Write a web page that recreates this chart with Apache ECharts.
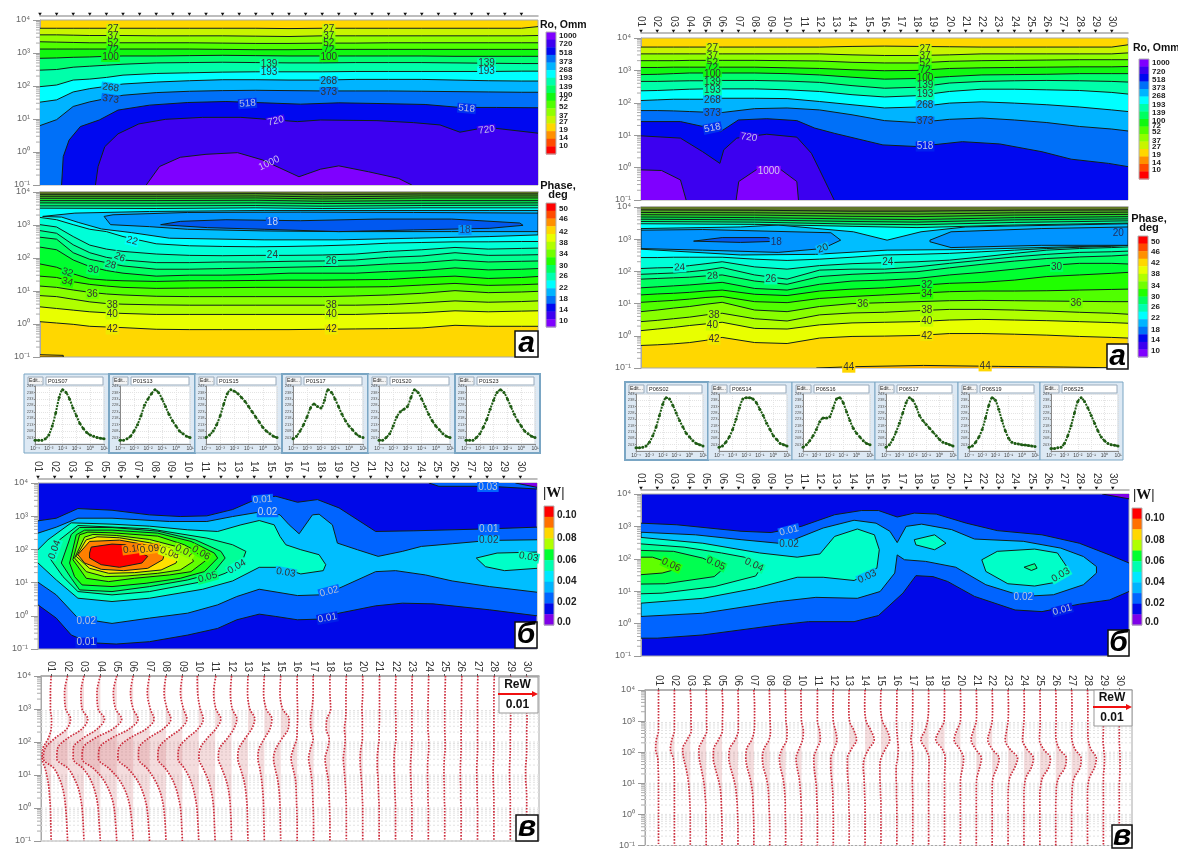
<!DOCTYPE html>
<html><head><meta charset="utf-8">
<style>html,body{margin:0;padding:0;background:#fff}#c{width:1178px;height:850px}</style>
<script src="https://cdn.jsdelivr.net/npm/echarts@6/dist/echarts.min.js"></script>
</head><body><div id="c"></div>
<script>
// ---------- shared axis values ----------
const sites=[1,2,3,4,5,6,7,8,9,10,11,12,13,14,15,16,17,18,19,20,21,22,23,24,25,26,27,28,29,30];
const siteLabels=sites.map(s=>String(s).padStart(2,'0'));
const yTickLabels={'-1':'10⁻¹','0':'10⁰','1':'10¹','2':'10²','3':'10³','4':'10⁴'};
const minorMult=[2,3,4,5,6,7,8,9];
const knots=[1,2,3,4,5,6,8,10,12,14,16,18,20,22,24,26,28,30,31];
const stripeKnots=[1,8,14,18,24,31];
// ---------- Ro, left (log10 period of each contour at knots) ----------
const roL27=[3.75,3.75,3.75,3.75,3.75,3.75,3.75,3.75,3.75,3.75,3.74,3.75,3.75,3.75,3.75,3.75,3.75,3.75,3.80];
const roL37=[3.55,3.55,3.54,3.53,3.53,3.53,3.52,3.52,3.52,3.51,3.50,3.52,3.52,3.52,3.52,3.52,3.52,3.52,3.53];
const roL52=[3.34,3.33,3.32,3.31,3.31,3.31,3.31,3.31,3.30,3.29,3.29,3.30,3.30,3.31,3.31,3.31,3.31,3.31,3.31];
const roL72=[3.12,3.12,3.12,3.12,3.12,3.12,3.12,3.12,3.11,3.10,3.10,3.11,3.11,3.11,3.11,3.11,3.11,3.11,3.11];
const roL100=[2.84,2.85,2.87,2.88,2.90,2.91,2.91,2.92,2.93,2.92,2.91,2.91,2.91,2.91,2.91,2.90,2.90,2.90,2.90];
const roL139=[2.48,2.50,2.57,2.60,2.63,2.66,2.70,2.71,2.72,2.71,2.70,2.70,2.71,2.71,2.71,2.70,2.69,2.68,2.68];
const roL193=[1.98,2.03,2.18,2.21,2.26,2.33,2.38,2.40,2.42,2.43,2.43,2.43,2.44,2.44,2.44,2.44,2.44,2.45,2.45];
const roL268=[1.51,1.58,1.82,1.92,1.99,2.06,2.12,2.16,2.19,2.19,2.18,2.18,2.20,2.20,2.20,2.18,2.16,2.15,2.15];
const roL373=[0.80,0.98,1.38,1.52,1.62,1.72,1.80,1.84,1.86,1.87,1.86,1.85,1.85,1.85,1.84,1.83,1.82,1.81,1.81];
const roL518=[[2.3,-1],[2.4,-0.14],[2.75,0.36],[3.43,0.77],[4.57,0.97],[5.7,1.27],[7.6,1.42],[9.9,1.5],[12.2,1.53],[14.5,1.49],[16.7,1.45],[19,1.49],[21.3,1.47],[24.2,1.44],[26.3,1.35],[28.5,1.35],[31,1.34]];
const roL720=[[4.34,-1],[4.5,-0.44],[4.9,0.16],[5.7,0.55],[6.95,0.85],[8.55,0.99],[10.8,1.05],[13.1,1.05],[14.7,0.99],[16.5,0.92],[17.9,0.97],[21.3,0.95],[23.5,0.89],[25.1,0.82],[26.3,0.6],[27.9,0.75],[31,0.57]];
const roL1000=[[7.4,-1],[8.2,-0.44],[9.45,-0.16],[11,-0.07],[12.9,-0.02],[14.4,-0.24],[16.6,-0.75],[17.9,-0.52],[19,-0.42],[20.8,-0.6],[22.6,-0.8],[23.4,-1]];
// ---------- Ro, right ----------
const roR27=[3.72,3.72,3.72,3.72,3.72,3.72,3.72,3.72,3.72,3.74,3.75,3.74,3.73,3.72,3.72,3.72,3.72,3.72,3.79];
const roR37=[3.51,3.51,3.51,3.51,3.51,3.51,3.51,3.51,3.51,3.48,3.46,3.46,3.48,3.51,3.51,3.51,3.51,3.51,3.54];
const roR52=[3.30,3.30,3.30,3.31,3.31,3.31,3.31,3.30,3.29,3.25,3.23,3.23,3.28,3.30,3.31,3.32,3.33,3.33,3.33];
const roR72=[3.09,3.09,3.10,3.10,3.10,3.10,3.10,3.08,3.06,3.02,2.99,3.00,3.06,3.08,3.09,3.10,3.11,3.11,3.12];
const roR100=[2.87,2.88,2.90,2.92,2.92,2.92,2.92,2.90,2.86,2.79,2.73,2.75,2.81,2.86,2.87,2.88,2.90,2.90,2.90];
const roR139=[2.66,2.66,2.67,2.68,2.68,2.69,2.69,2.67,2.63,2.53,2.45,2.48,2.61,2.66,2.68,2.69,2.68,2.66,2.64];
const roR193=[2.37,2.38,2.40,2.42,2.43,2.43,2.43,2.40,2.35,2.25,2.18,2.22,2.35,2.42,2.42,2.40,2.38,2.32,2.27];
const roR268=[2.07,2.09,2.11,2.11,2.11,2.14,2.14,2.13,2.04,1.94,1.84,1.87,1.99,2.03,1.99,1.94,1.87,1.78,1.73];
const roR373=[1.76,1.76,1.75,1.73,1.71,1.70,1.82,1.84,1.78,1.63,1.45,1.39,1.49,1.53,1.47,1.39,1.27,1.19,1.13];
const roR518=[[1,1.42],[3.43,1.42],[4.8,1.27],[5.9,1.11],[7,1.47],[8.75,1.51],[10.6,1.45],[11.7,1.22],[12.9,1.06],[15.9,0.70],[18,0.65],[20.8,0.80],[23.1,0.73],[25.7,0.49],[27.5,0.26],[29.8,0.13],[31,0.03]];
const roR720=[[1,0.98],[3.43,0.91],[4.8,0.49],[5.86,0.13],[6.1,0.55],[6.9,0.91],[8.75,1.03],[10.6,0.94],[11.5,0.44],[12,-0.07],[12.9,-1]];
const roR1000a=[[1,-0.07],[2.27,-0.09],[3.43,-0.38],[3.78,-1]];
const roR1000b=[[6.86,-1],[7.02,-0.43],[8.3,0],[9.45,0],[10.6,-0.43],[10.7,-1]];
// ---------- Phase, left ----------
const phL42=[.07,.03,-.01,-.07,-.09,-.11,-.16,-.17,-.17,-.17,-.17,-.16,-.15,-.14,-.12,-.04,-.07,-.07,-.07];
const phL40=[.52,.47,.42,.37,.34,.32,.29,.29,.29,.29,.29,.29,.29,.32,.34,.40,.37,.39,.40];
const phL38=[.86,.83,.75,.67,.62,.60,.58,.57,.57,.57,.57,.57,.57,.59,.64,.70,.66,.68,.70];
const phL36=[1.15,1.11,1.03,.96,.91,.88,.84,.83,.83,.83,.83,.83,.85,.88,.93,1.01,.95,.97,.99];
const phL34=[1.45,1.41,1.28,1.20,1.15,1.11,1.08,1.09,1.10,1.11,1.11,1.11,1.12,1.13,1.18,1.23,1.17,1.19,1.21];
const phL32=[1.82,1.72,1.52,1.37,1.33,1.31,1.29,1.31,1.31,1.32,1.33,1.33,1.34,1.35,1.41,1.45,1.38,1.41,1.44];
const phL30=[2.33,2.25,1.94,1.74,1.62,1.54,1.45,1.48,1.48,1.50,1.54,1.54,1.54,1.59,1.62,1.70,1.64,1.66,1.68];
const phL28=[2.63,2.57,2.16,1.96,1.86,1.76,1.66,1.66,1.68,1.70,1.72,1.74,1.76,1.82,1.86,1.94,1.88,1.90,1.91];
const phL26=[2.83,2.75,2.40,2.16,2.02,1.94,1.86,1.86,1.88,1.88,1.90,1.91,1.94,2.02,2.06,2.16,2.08,2.09,2.10];
const phL24=[3.01,2.94,2.65,2.39,2.27,2.20,2.12,2.08,2.07,2.08,2.08,2.09,2.12,2.20,2.25,2.32,2.27,2.29,2.30];
const phL22=[3.23,3.16,3.01,2.87,2.80,2.65,2.43,2.37,2.35,2.34,2.35,2.37,2.40,2.45,2.47,2.49,2.49,2.50,2.50];
const phL20=[[1.16,3.26],[3.1,3.36],[7.6,3.41],[14.5,3.44],[21.3,3.44],[28.1,3.44],[31,3.44],[31,2.70],[28.1,2.65],[23.5,2.60],[19,2.55],[14.5,2.55],[8.8,2.60],[6.5,2.77],[4.7,2.88],[3.3,3.08],[2.3,3.24]];
const phL19=[[4.86,3.26],[5.4,3.31],[9.9,3.38],[16.7,3.39],[23.5,3.38],[31,3.36],[31,2.80],[25.8,2.80],[19,2.80],[14.5,2.82],[9.9,2.87],[7.6,2.95],[5.25,3.01]];
const phL18=[[8.27,3.01],[9.45,3.11],[12.2,3.16],[16.7,3.13],[21.3,3.18],[25.8,3.18],[29.9,3.06],[30.1,2.99],[28.1,2.90],[23.5,2.85],[19,2.80],[14.5,2.87],[11.1,2.92]];
const phLTop=[[3.51,3.50,3.52,3.50,3.52,3.52],[3.58,3.58,3.59,3.57,3.59,3.60],[3.67,3.66,3.67,3.65,3.66,3.67],[3.74,3.74,3.75,3.72,3.74,3.74],[3.81,3.81,3.82,3.79,3.82,3.82],[3.87,3.87,3.88,3.85,3.88,3.88],[3.93,3.93,3.95,3.92,3.94,3.94]];
const phLLow=[[1,-0.93],[2.4,-0.95],[2.4,-1],[1,-1]];
// ---------- Phase, right ----------
const phR42=[-.30,-.28,-.25,-.21,-.14,-.05,-.21,-.24,-.07,-.02,-.01,.01,.07,.07,.05,.02,-.02,-.05,-.07];
const phR40=[.16,.21,.26,.32,.37,.42,.23,.21,.34,.40,.42,.44,.49,.51,.49,.47,.44,.41,.39];
const phR38=[.44,.48,.53,.58,.65,.70,.53,.46,.65,.71,.73,.78,.82,.82,.80,.77,.73,.70,.67];
const phR36=[.75,.80,.86,.91,.98,1.04,.80,.75,.91,1.00,1.03,1.06,1.09,1.10,1.09,1.08,1.07,1.06,1.06];
const phR34=[1.04,1.07,1.10,1.14,1.19,1.22,1.06,1.03,1.16,1.22,1.27,1.32,1.37,1.39,1.39,1.40,1.42,1.44,1.45];
const phR32=[1.27,1.30,1.32,1.35,1.39,1.42,1.29,1.25,1.39,1.45,1.49,1.56,1.63,1.66,1.73,1.84,1.89,1.94,1.97];
const phR30=[1.49,1.52,1.55,1.58,1.62,1.66,1.47,1.42,1.60,1.70,1.73,1.78,1.89,1.97,2.07,2.18,2.25,2.25,2.23];
const phR28=[1.76,1.78,1.80,1.82,1.86,1.89,1.70,1.60,1.84,1.91,1.95,1.99,2.11,2.22,2.32,2.40,2.45,2.48,2.51];
const phR26=[1.91,1.93,1.95,1.99,2.04,2.12,1.89,1.76,2.04,2.07,2.07,2.14,2.25,2.35,2.45,2.53,2.59,2.61,2.63];
const phR24=[2.09,2.11,2.12,2.18,2.24,2.30,2.14,2.07,2.18,2.24,2.27,2.30,2.35,2.45,2.56,2.66,2.71,2.74,2.76];
const phR22=[2.43,2.43,2.44,2.44,2.44,2.44,2.38,2.34,2.38,2.44,2.51,2.53,2.56,2.61,2.66,2.71,2.75,2.78,2.81];
const phR20=[[1,3.33],[7.13,3.38],[9.45,3.44],[14.08,3.23],[16.16,2.97],[18.25,3.23],[21,3.38],[31,3.48],[31,2.81],[21,2.68],[16.16,2.66],[11.76,2.53],[7.13,2.51],[1,2.69]];
const phR19a=[[1,3.28],[4.8,3.30],[12.7,3.20],[13.3,2.97],[12.2,2.71],[9.45,2.59],[4.8,2.66],[1,2.71]];
const phR19b=[[18.8,2.97],[20.1,3.23],[25.65,3.33],[31,3.38],[31,2.81],[25.65,2.81],[20.1,2.74],[18.8,2.92]];
const phR18=[[4.24,2.94],[6,3.05],[8.75,3.05],[9.7,2.94],[7.13,2.90]];
const phR44=[[11.8,-1],[14,-.96],[18.4,-.92],[23,-.95],[27,-.97],[31,-1]];
const phRTop=[[3.48,3.46,3.40,3.36,3.44,3.50],[3.55,3.53,3.47,3.45,3.52,3.57],[3.62,3.60,3.55,3.53,3.60,3.63],[3.69,3.67,3.63,3.61,3.67,3.70],[3.76,3.75,3.71,3.70,3.75,3.77],[3.83,3.82,3.79,3.78,3.82,3.84],[3.91,3.90,3.87,3.87,3.90,3.91]];
// ---------- |W|, left ----------
const wL01a=[[1,2.86],[2.1,2.94],[3.4,3.23],[5.45,3.18],[7.7,3.04],[9.55,2.99],[11.15,3.01],[12.7,3.2],[14.3,3.55],[15.3,3.6],[16.6,3.42],[17.8,3.5],[19.1,3.25],[21.3,2.54],[23.6,2.56],[28.15,2.62],[31,2.67]];
const wL01b=[[31,0],[28.15,.18],[24.75,.36],[22.9,.38],[21.3,.3],[19.1,.08],[17.9,-.1],[16.6,-.12],[15.3,-.02],[14.3,.05],[12.95,-.12],[11.8,-.38],[10,-.58],[7.7,-.78],[5.7,-.85],[4.1,-.81],[3,-.58],[2.1,-.07],[1,.33]];
const wL02a=[[1,2.49],[2.1,2.67],[3.4,2.94],[5.45,2.94],[8.9,2.84],[11.15,2.84],[12.7,2.99],[14.5,3.14],[15.55,3.04],[16.1,2.74],[16.7,2.47],[17.5,3.04],[17.9,3.06],[18.7,2.74],[19,2.19],[20.2,1.99],[21.45,1.79],[22.9,1.94],[24.05,2.09],[25.9,2.17],[28.15,2.27],[31,2.29]];
const wL02b=[[31,.71],[28.15,.88],[25.9,1.05],[24.3,1.23],[22.5,1.36],[21.3,1.33],[19.1,.83],[17.9,.63],[16.6,.61],[14.3,.8],[12.95,.58],[11.8,.33],[10,.08],[7.7,-.07],[5.45,-.23],[3.4,-.07],[2.1,.63],[1,1.01]];
const wL03=[[1,1.99],[1.6,2.29],[3,2.8],[5.45,2.76],[7.7,2.7],[10,2.59],[11.8,2.54],[13.2,2.74],[14.3,2.87],[15.2,2.74],[15.55,2.39],[15.9,2.14],[16.8,1.99],[17.9,1.84],[18.3,1.54],[18.15,1.36],[16.8,1.26],[15.55,1.46],[14.3,1.46],[12.7,1.05],[10.9,.8],[7.7,.53],[5.45,.43],[3.4,.53],[2.1,1.08],[1,1.59]];
const wL03a=[[27.35,1.74],[28.6,1.89],[31,1.92]];
const wL03b=[[31,1.43],[29.05,1.36],[27.9,1.48],[27.35,1.74]];
const wL04=[[1.7,1.74],[2.3,2.29],[3.4,2.72],[7.7,2.62],[11.15,2.34],[12.7,2.14],[13.5,1.94],[13.2,1.54],[12.25,1.28],[10.9,1.03],[7.7,.73],[5.45,.63],[3.4,.73],[2.5,1.18]];
const wL05=[[2.4,1.59],[3,2.45],[3.5,2.66],[5.45,2.66],[8.2,2.55],[10.45,2.29],[12,1.94],[12.25,1.74],[11.5,1.28],[10,1.08],[7.7,.88],[5.45,.73],[3.5,.78],[3,1.13]];
const wL06=[[2.9,1.59],[3.3,2.44],[3.8,2.58],[5.45,2.58],[8.2,2.49],[10.2,2.24],[11.6,1.89],[11.8,1.74],[11,1.33],[9.55,1.13],[7.5,.98],[5.45,.88],[3.65,.93],[3.2,1.18]];
const wL07=[[3.1,1.69],[3.5,2.44],[4,2.52],[5.45,2.5],[8.2,2.4],[9.8,2.14],[10.9,1.84],[11.15,1.69],[10.2,1.33],[8.9,1.23],[6.8,1.13],[5.25,1.03],[3.9,1.13]];
const wL08=[[3.2,1.74],[3.8,2.37],[4.3,2.45],[5.7,2.42],[7.7,2.3],[9.3,2.09],[10.2,1.79],[10.35,1.64],[9.55,1.38],[8.2,1.28],[6.35,1.2],[5,1.18],[3.9,1.33]];
const wL09=[[3.3,1.79],[3.9,2.29],[4.55,2.38],[5.9,2.35],[7.7,2.2],[8.9,2.04],[9.45,1.79],[9.3,1.59],[8.4,1.38],[6.8,1.3],[5.25,1.28],[4.1,1.43]];
const wL10=[[3.4,1.84],[4.1,2.24],[5.9,2.28],[7.7,2.12],[8.65,1.94],[8.5,1.69],[7.6,1.43],[6.15,1.36],[4.8,1.4],[3.8,1.59]];
const wLMax=[[4.1,1.89],[4.2,2.07],[5.45,2.16],[6.25,2.14],[7.6,1.79],[7.25,1.59],[5.9,1.46],[4.8,1.54],[4.1,1.74]];
const wLCorner=[[24.5,4],[25.1,3.9],[28.15,3.9],[31,3.82]];
const wLCorner0=[[29.7,4],[31,3.87]];
// ---------- |W|, right ----------
const wR01a=[[1,3.1],[3.2,3.05],[7.15,2.85],[9,2.81],[10.85,3],[12.9,3.36],[14.55,3.49],[15.6,3.49],[16.75,3.29],[17.8,3.41],[19.15,3.38],[21,3.1],[22.9,2.87],[25.65,2.74],[27.95,2.48],[29.8,2.12],[31,1.87]];
const wR01b=[[31,.99],[29.8,.73],[27.95,.6],[25.65,.37],[24,.42],[21.5,.84],[19.85,1.3],[18.95,1.45],[17.9,1.48],[17.1,.94],[15.6,.25],[14.1,.06],[11.3,.06],[9.45,-.04],[4.8,-.35],[2,-.45],[1,-.45]];
const wR02=[[1,2.82],[4.35,2.74],[7.15,2.59],[9.45,2.48],[10.4,2.59],[12.2,2.95],[14.1,3.19],[15.45,3.1],[16.3,2.85],[16.75,2.5],[17.3,3],[18.25,3.07],[20.1,2.9],[21.5,2.61],[24.5,2.54],[26.8,2.33],[28.2,2.07],[29,1.76],[29,1.56],[28.2,1.2],[26.35,.89],[24.5,.84],[22.2,1.2],[20.35,1.74],[18.5,1.92],[17.2,1.97],[16.75,2.12],[16.6,1.56],[15.7,.99],[14.3,.78],[11.75,.81],[9.45,.68],[4.8,.32],[1,.22]];
const wR03=[[1,2.66],[4.8,2.48],[8.3,2.18],[10.6,2.05],[12,2.15],[12.9,2.69],[14.3,2.92],[15.35,2.74],[15.65,2.28],[15.5,1.71],[14.1,1.33],[12.2,1.43],[10.6,1.43],[8.05,1.09],[4.8,.78],[1,.63]];
const wR04=[[1,2.46],[3.65,2.36],[5.95,2.18],[7.35,2.05],[8.4,1.74],[8.05,1.47],[5.5,1.14],[2.3,.94],[1,.92]];
const wR05=[[1,2.26],[3,2.23],[4.8,2.02],[6.1,1.71],[5.5,1.45],[2.5,1.23],[1,1.22]];
const wR06=[[1,2.05],[1.7,2.05],[2.5,1.92],[3.4,1.71],[2.3,1.56],[1,1.51]];
const wRBlob1=[[17.8,2.59],[19.05,2.74],[19.75,2.48],[19.05,2.28],[17.9,2.43],[17.8,2.59]];
const wRBlob2=[[21.95,1.97],[22.9,2.23],[25.2,2.3],[26.6,2.18],[27.3,1.66],[26.45,1.27],[25.2,1.16],[23.55,1.23],[22.2,1.61],[21.95,1.97]];
const wRCore=[[24.55,1.74],[25.2,1.85],[25.35,1.71],[25,1.64],[24.55,1.74]];
const wRCorner0=[[29.35,4],[31,3.85]];
// ---------- ReW (units of 0.001) at these log10 periods, one row per site ----------
const rwY=[4,3.5,3,2.7,2.4,2.1,1.8,1.5,1.2,.9,.6,.3,0,-.5,-1];
const reWLeft=[
[0,-.2,-.2,.1,0,-.8,-2.2,-2.4,-1.6,-1,-.6,-.4,-.2,-.1,0],
[0,-.8,-.5,.8,-.2,-3.5,-6,-6.4,-3.6,-2.2,-1.3,-.8,-.5,-.2,0],
[0,-.8,-.5,1,-.5,-4.5,-7,-7.2,-4.2,-2.6,-1.5,-.9,-.5,-.2,0],
[0,-.9,-.6,1.1,-.8,-4.8,-7.2,-7.2,-4.6,-2.8,-1.7,-1,-.6,-.3,0],
[0,-.9,-.3,1.3,-1,-6,-9,-9.2,-6.2,-3.8,-2.3,-1.3,-.7,-.3,0],
[0,-.7,0,1.3,-1,-6,-9,-9.2,-6.4,-4,-2.4,-1.4,-.8,-.3,0],
[0,-.6,.2,1.2,-.9,-5.5,-8.2,-8.4,-5.8,-3.6,-2.2,-1.3,-.7,-.3,0],
[0,-.5,.3,1.3,-.7,-4.8,-7.2,-7.3,-5,-3.2,-1.9,-1.1,-.6,-.2,0],
[0,-.5,.3,1.2,-.5,-4,-6.3,-6.5,-4.5,-2.8,-1.7,-1,-.5,-.2,0],
[-.4,-.3,.4,1.2,-.2,-3.2,-5.3,-5.5,-3.8,-2.4,-1.5,-.9,-.5,-.2,0],
[.2,-.4,.2,1.5,.2,-2.2,-4,-4.3,-3.2,-2,-1.2,-.7,-.4,-.2,0],
[0,-.3,.2,1.4,.6,-1.2,-3.2,-3.5,-2.6,-1.6,-.9,-.5,-.3,-.1,0],
[0,-.1,.5,1.8,1,-.8,-2.4,-2.7,-2,-1.2,-.7,-.4,-.2,-.1,0],
[0,-.2,.5,2,1.5,0,-1.4,-1.7,-1.2,-.8,-.5,-.3,-.2,-.1,0],
[0,-.2,.5,2.2,2,.3,-1.3,-1.9,-1.5,-.9,-.5,-.3,-.2,-.1,0],
[0,0,.1,.1,0,-.1,-1,-1.6,-1.1,-.5,-.3,-.2,-.1,0,0],
[-.1,-.1,-.4,-.8,-.7,-.1,-.8,-1.3,-.9,-.5,-.3,-.2,-.1,0,0],
[0,0,.2,-.8,-1,-.2,-.6,-1.3,-1,-.5,-.3,-.2,-.1,0,0],
[0,-.1,-.1,-.2,-.5,-.3,-.5,-.8,-.6,-.4,-.2,-.1,0,0,0],
[0,0,-.2,-.1,-.1,-.1,-.5,-.7,-.6,-.4,-.2,-.1,0,0,0],
[.1,.1,.1,.1,0,0,-.3,-.5,-.5,-.3,-.2,-.1,0,0,0],
[.1,0,0,.1,.1,.1,-.2,-.4,-.4,-.3,-.2,-.1,0,0,0],
[.1,0,0,0,0,0,-.1,-.3,-.4,-.3,-.2,-.1,0,0,0],
[.1,0,-.1,-.1,-.1,.1,.1,-.1,-.2,-.2,-.1,-.1,0,0,0],
[.2,.1,0,0,0,.1,.1,-.1,-.2,-.2,-.1,-.1,0,0,0],
[.2,.1,.1,0,0,0,0,-.1,-.2,-.2,-.1,-.1,0,0,0],
[.1,0,0,0,0,0,0,-.1,-.2,-.2,-.1,-.1,0,0,0],
[.1,0,0,0,0,0,0,-.1,-.2,-.2,-.1,0,0,0,0],
[.1,.1,.1,.1,0,0,0,-.1,-.2,-.2,-.1,0,0,0,0],
[0,0,0,.1,0,0,0,-.1,-.3,-.3,-.1,0,0,0,0]];
const reWRight=[
[0,0,0,0,-.6,-.8,-.2,-.1,0,0,0,0,0,0,0],
[0,0,0,0,-.7,-1.1,-.3,-.1,0,0,0,0,0,0,0],
[0,.2,.2,.3,-.9,-2.1,-1.8,-1.2,-.7,-.4,-.2,-.1,0,0,0],
[0,.1,.1,.2,-.9,-2,-1.9,-1.4,-.9,-.5,-.3,-.1,-.1,0,0],
[0,.2,.1,.1,-1,-2.3,-2.4,-1.9,-1.2,-.6,-.3,-.2,-.1,0,0],
[0,.1,.1,.1,-.8,-2.3,-2.5,-2,-1.3,-.7,-.4,-.2,-.1,0,0],
[0,.2,.2,.1,-.6,-2,-2.2,-1.8,-1.1,-.6,-.3,-.2,-.1,0,0],
[-.1,0,.1,.2,-.2,-1.6,-2,-1.7,-1,-.5,-.3,-.2,-.1,0,0],
[-.1,0,.1,.4,.3,-1,-1.7,-1.4,-.8,-.4,-.2,-.1,-.1,0,0],
[-.2,-.1,0,.5,.3,-.7,-1.5,-1.2,-.7,-.4,-.2,-.1,0,0,0],
[0,0,0,.6,.8,-.2,-1,-.9,-.6,-.3,-.2,-.1,0,0,0],
[0,-.1,0,.6,1,.2,-.7,-.7,-.5,-.3,-.1,-.1,0,0,0],
[0,-.1,.1,1.3,2,.6,-.5,-.5,-.4,-.2,-.1,-.1,0,0,0],
[0,-.1,.3,1.6,2.5,1,-.2,-.5,-.3,-.2,-.1,0,0,0,0],
[0,-.1,.4,1.7,2.4,1.2,0,-.3,-.3,-.2,-.1,0,0,0,0],
[0,0,-.1,0,.2,.4,.2,-.2,-.2,-.1,-.1,0,0,0,0],
[0,0,-.1,-.2,-.5,-.1,0,0,-.1,-.1,0,0,0,0,0],
[0,0,-.3,-1,-2.1,-.8,.1,.1,0,0,0,0,0,0,0],
[0,0,-.1,-1.4,-2.4,-.6,.2,.1,0,0,0,0,0,0,0],
[0,.1,0,-1,-1.7,-.2,.9,.6,.1,0,0,0,0,0,0],
[0,.1,0,-.8,-1.4,-.2,1.4,.9,.2,0,0,0,0,0,0],
[0,.1,0,-.6,-1.2,0,1.9,1.3,.3,0,0,0,0,0,0],
[0,.1,0,-.4,-.8,.5,2.6,1.8,.5,.1,0,0,0,0,0],
[0,.1,0,-.2,-.4,.8,2.6,2,.6,.1,0,0,0,0,0],
[0,.1,.1,0,-.1,1,2.9,2.4,.8,.2,0,0,0,0,0],
[0,.1,.1,0,.1,1,2.9,2.5,.9,.2,.1,0,0,0,0],
[0,.1,.1,0,.1,.9,2.6,2.3,.8,.2,.1,0,0,0,0],
[0,.1,.1,.1,.2,.9,2.4,1.9,.6,.1,0,0,0,0,0],
[0,0,0,0,-.1,.1,.3,.2,0,0,0,0,0,0,0],
[0,0,0,0,0,.1,.2,.2,.1,0,0,0,0,0,0]];
// ---------- inset curves ----------
const insetX=[-4,-3.75,-3.5,-3.25,-3,-2.75,-2.5,-2.25,-2,-1.75,-1.5,-1.25,-1,-.75,-.5,-.25,0,.25,.5,.75,1];
const insetL=[
['P01S07',[201,201,201,202,205,212,222,234,240,238,233,226,220,214,210,207,205,204,203,202.5,202]],
['P01S13',[201,201,202,204,208,213,220,228,233,237,240,238,233,227,221,216,212,208,206,204,203]],
['P01S15',[203,205,208,213,220,229,237,240,239,237,234,231,227,223,219,215,211,208,206,204,203]],
['P01S17',[202,204,208,213,219,226,229,227,226,232,240,238,233,227,221,216,212,209,206,204,203]],
['P01S20',[201,201,203,206,212,219,223,225,227,234,240,238,233,227,221,216,212,209,206,204,203]],
['P01S23',[201,201,201,203,206,211,217,225,232,238,240,238,233,227,221,216,212,208,206,204,203]]];
const insetR=[
['P06S02',[200.5,200.5,201,202,205,210,217,226,235,240,239,234,228,222,217,212,209,206,204,203,202]],
['P06S14',[201,202,205,209,215,223,232,239,240,240,239,236,231,226,220,215,210,207,204,203,202]],
['P06S16',[201,203,206,210,215,221,224,224,225,232,239,240,236,229,222,216,212,209,206,204,203]],
['P06S17',[201,203,207,213,220,228,236,240,238,233,226,222,219,216,213,210,207,205,204,203,202]],
['P06S19',[201,202,205,209,215,224,234,240,238,231,222,214,208,205,204,203.5,203,202.7,202.3,202,201.5]],
['P06S25',[200,200,200.5,201,204,210,218,228,237,240,237,232,226,220,214,209,206,204,203,202.5,202]]];
// ---------- colour scales ----------
const roBarColors=['#7f00ff','#3c00f0','#0008f0','#0070f8','#00b4ff','#00ffff','#00ffaa','#00ff60','#10f810','#50ff00','#90ff00','#c8f500','#ffd700','#ff9000','#ff4a00','#ff0000'];
const roBarLabels=['1000','720','518','373','268','193','139','100','72','52','37','27','19','14','10'];
const phBarColors=['#ff0000','#ff4a00','#ff9000','#ffd700','#e8ff00','#b0ff00','#70ff00','#20ff00','#00ff60','#00ffb0','#00ffff','#00b4ff','#0070f8','#0008f0','#3c00f0','#7f00ff'];
const phBarLabels=['50','46','42','38','34','30','26','22','18','14','10'];
const wBarColors=['#ff0000','#ff7000','#ffd700','#b0ff00','#00ff30','#00ffb0','#00e8ff','#00b4ff','#0064ff','#0008e8','#7f00e8'];
const wBarLabels=['0.10','0.08','0.06','0.04','0.02','0.0'];

// ---------- helpers ----------
const zip=a=>a.map((v,i)=>[knots[i],v]);
const LINE='#10201a';
const below=(arr,c)=>({c,segs:[zip(arr)],frame:[[31,-1],[1,-1]]});
const above=(arr,c)=>({c,segs:[zip(arr)],frame:[[31,4],[1,4]]});
const aboveS=(arr,c)=>({c,segs:[arr.map((v,i)=>[stripeKnots[i],v])],frame:[[31,4],[1,4]]});
const belowPts=(pts,c,frame)=>({c,segs:[pts],frame});
const closed=(pts,c)=>({c,segs:[pts.concat([pts[0]])],frame:[]});
const two=(a,b,c)=>({c,segs:[a,b],frame:[]});

const grids=[],xAxes=[],yAxes=[],series=[];
function addPanel(g,bg,opt){
  const i=grids.length;
  grids.push({left:g[0],top:g[1],width:g[2]-g[0],height:g[3]-g[1],show:true,backgroundColor:bg,borderColor:'#a8a8a8',borderWidth:1,containLabel:false});
  const xr=opt.xr||[1,31];
  xAxes.push({gridIndex:i,type:'value',position:'top',min:xr[0],max:xr[1],offset:opt.offset||0,
    axisLine:{show:true,onZero:false,lineStyle:{color:'#a8a8a8',width:1.5}},
    axisTick:{show:!!opt.labels&&!opt.tri,customValues:sites,length:2,lineStyle:{color:'#555'}},
    axisLabel:{show:!!opt.labels,customValues:sites,rotate:90,fontSize:10,color:'#333',margin:opt.margin||5,fontFamily:'Liberation Sans',formatter:v=>siteLabels[Math.round(v)-1]||''},
    splitLine:{show:false}});
  yAxes.push({gridIndex:i,type:'value',min:-1,max:4,interval:1,
    axisLine:{show:true,onZero:false,lineStyle:{color:'#a8a8a8'}},
    axisTick:{show:true,length:7,lineStyle:{color:'#999'}},
    axisLabel:{fontSize:9,color:'#666',margin:10,fontFamily:'Liberation Sans',formatter:v=>yTickLabels[v]},
    splitLine:{show:false}});
  // minor log ticks on the period axis
  const minors=[];
  for(let d=-1;d<4;d++)minorMult.forEach(m=>minors.push(d+Math.log10(m)));
  series.push({type:'custom',xAxisIndex:i,yAxisIndex:i,silent:true,z:5,clip:false,data:minors.map(v=>[xr[0],v]),
    renderItem:(p,api)=>{const c=api.coord([api.value(0),api.value(1)]);
      return {type:'line',shape:{x1:c[0]-4,y1:c[1],x2:c[0],y2:c[1]},style:{stroke:'#aaa',lineWidth:1}};}});
  if(opt.tri){
    series.push({type:'custom',xAxisIndex:i,yAxisIndex:i,silent:true,clip:false,z:6,data:sites.map(s=>[s,4]),
      renderItem:(p,api)=>{const c=api.coord([api.value(0),api.value(1)]);const t=c[1]-(opt.offset||0);
        return {type:'polygon',shape:{points:[[c[0]-1.8,t-3.2],[c[0]+1.8,t-3.2],[c[0],t-.2]]},style:{fill:'#111'}};}});
  }
  return i;
}
function addContours(i,polys,labels){
  series.push({type:'custom',xAxisIndex:i,yAxisIndex:i,silent:true,clip:true,z:2,data:polys.map((_,k)=>[k]),
    renderItem:(p,api)=>{
      const P=polys[p.dataIndex];
      const all=[];P.segs.forEach(s=>s.forEach(q=>all.push(api.coord(q))));
      P.frame.forEach(q=>all.push(api.coord(q)));
      const ch=[{type:'polygon',shape:{points:all},style:{fill:P.c,stroke:null}}];
      P.segs.forEach(s=>ch.push({type:'polyline',shape:{points:s.map(q=>api.coord(q))},style:{stroke:LINE,fill:null,lineWidth:1}}));
      return {type:'group',children:ch};
    }});
  series.push({type:'custom',xAxisIndex:i,yAxisIndex:i,silent:true,clip:false,z:3,data:labels.map(l=>[l[0],l[1]]),
    renderItem:(p,api)=>{
      const L=labels[p.dataIndex];const c=api.coord([L[0],L[1]]);
      return {type:'text',x:c[0],y:c[1],rotation:-(L[4]||0)*Math.PI/180,
        style:{text:L[2],fill:L[5]||'#333',font:'10px "Liberation Sans"',align:'center',verticalAlign:'middle',backgroundColor:L[3]||null,padding:[0,1]}};
    }});
}
function addReW(i,rows,scale){
  const lv=[];
  for(let d=-1;d<3;d++)[1].concat(minorMult).forEach(m=>lv.push(d+Math.log10(m)));
  const xr=xAxes[i];
  series.push({type:'custom',xAxisIndex:i,yAxisIndex:i,silent:true,z:1,data:lv.map(v=>[xr.min,v]),
    renderItem:(p,api)=>{const a=api.coord([xr.min,api.value(1)]),b=api.coord([xr.max,api.value(1)]);
      return {type:'line',shape:{x1:a[0],y1:a[1],x2:b[0],y2:b[1]},style:{stroke:'#e2e2e2',lineWidth:1,lineDash:[2,2]}};}});
  rows.forEach((row,k)=>{
    const s=sites[k];
    const curve=row.map((v,j)=>[s+v*scale,rwY[j]]);
    series.push({type:'custom',xAxisIndex:i,yAxisIndex:i,silent:true,clip:true,z:2,data:[[s,0]],
      renderItem:(p,api)=>{
        const pts=curve.map(q=>api.coord(q)).concat(rwY.slice().reverse().map(y=>api.coord([s,y])));
        return {type:'polygon',shape:{points:pts},style:{fill:'rgba(214,120,125,0.26)'}};}});
    series.push({type:'line',xAxisIndex:i,yAxisIndex:i,data:curve,smooth:0.35,showSymbol:false,silent:true,z:3,
      lineStyle:{color:'#cc2c3c',width:1.7,type:[1.6,1.4]}});
  });
}

// ---------- Ro panels ----------
const gRoL=addPanel([40,20,538,185],'#ffd700',{tri:true,offset:4});
addContours(gRoL,[
 below(roL27,'#c8f500'),below(roL37,'#90ff00'),below(roL52,'#50ff00'),below(roL72,'#10f810'),below(roL100,'#00ff70'),below(roL139,'#00ffaa'),below(roL193,'#00ffff'),below(roL268,'#00b4ff'),below(roL373,'#0070f8'),
 belowPts(roL518,'#0008f0',[[31,-1]]),belowPts(roL720,'#3c00f0',[[31,-1]]),belowPts(roL1000,'#7f00ff',[])
],[
 [5.4,3.73,'27','#c8f500'],[5.4,3.5,'37','#90ff00'],[5.4,3.29,'52','#50ff00'],[5.4,3.07,'72','#10f810'],[5.25,2.88,'100','#10f810'],
 [18.4,3.73,'27','#c8f500'],[18.4,3.5,'37','#90ff00'],[18.4,3.29,'52','#50ff00'],[18.4,3.07,'72','#10f810'],[18.4,2.88,'100','#10f810'],
 [14.8,2.66,'139','#00ffaa'],[14.8,2.41,'193','#00ffff'],[27.9,2.68,'139','#00ffaa'],[27.9,2.44,'193','#00ffff'],
 [18.4,2.13,'268','#00b4ff'],[18.4,1.81,'373','#0070f8'],[5.25,1.95,'268','#00b4ff',8],[5.25,1.6,'373','#0070f8',8],
 [13.5,1.47,'518','#0030f0',-5,'#b8c4e0'],[26.7,1.32,'518','#0030f0',5,'#b8c4e0'],[15.2,.94,'720','#3c00f0',-12,'#c0c0e8'],[27.9,.67,'720','#3c00f0',-8,'#c0c0e8'],[14.8,-.34,'1000',null,-25,'#c8b8f0']
]);
const gRoR=addPanel([641,38,1128,200],'#ffd700',{tri:true,labels:true,offset:5,margin:6});
addContours(gRoR,[
 below(roR27,'#c8f500'),below(roR37,'#90ff00'),below(roR52,'#50ff00'),below(roR72,'#10f810'),below(roR100,'#00ff70'),below(roR139,'#00ffaa'),below(roR193,'#00ffff'),below(roR268,'#00b4ff'),below(roR373,'#0070f8'),
 belowPts(roR518,'#0008f0',[[31,-1],[1,-1]]),belowPts(roR720,'#3c00f0',[[1,-1]]),belowPts(roR1000a,'#7f00ff',[[1,-1]]),belowPts(roR1000b,'#7f00ff',[])
],[
 [5.4,3.69,'27','#c8f500'],[5.4,3.45,'37','#90ff00'],[5.4,3.23,'52','#50ff00'],[5.4,3.07,'72','#10f810'],[5.4,2.87,'100','#10f810'],[5.4,2.64,'139','#00ff70'],[5.4,2.38,'193','#00ffaa'],[5.4,2.07,'268','#00b4ff'],[5.4,1.68,'373','#0070f8'],[5.4,1.22,'518','#0030f0',-12,'#c0c8e8'],
 [18.5,3.66,'27','#c8f500'],[18.5,3.45,'37','#90ff00'],[18.5,3.23,'52','#50ff00'],[18.5,3.02,'72','#10f810'],[18.5,2.76,'100','#10f810'],[18.5,2.53,'139','#00ff70'],[18.5,2.25,'193','#00ffaa'],[18.5,1.91,'268','#00b4ff'],[18.5,1.42,'373','#0070f8'],[18.5,.65,'518','#0020f0',0,'#c0c8e8'],
 [7.64,.93,'720','#3c00f0',8,'#c0c0e8'],[8.87,-.1,'1000','#7f00ff',0,'#d0c8f0']
]);
// ---------- Phase panels ----------
const gPhL=addPanel([40,192,538,357],'#ffd700',{});
addContours(gPhL,[
 belowPts(phLLow,'#ffb000',[]),
 above(phL42,'#e8ff00'),above(phL40,'#b0ff00'),above(phL38,'#88ff00'),above(phL36,'#50ff00'),above(phL34,'#20ff00'),above(phL32,'#00ff30'),above(phL30,'#00ff60'),above(phL28,'#00ff90'),above(phL26,'#00ffb0'),above(phL24,'#00ffd8'),above(phL22,'#00ffff'),
 closed(phL20,'#00beff'),closed(phL19,'#0094ff'),closed(phL18,'#0058f0'),
 aboveS(phLTop[0],'#00ffa8'),aboveS(phLTop[1],'#00f070'),aboveS(phLTop[2],'#00e050'),aboveS(phLTop[3],'#20d830'),aboveS(phLTop[4],'#40c820'),aboveS(phLTop[5],'#50a820'),aboveS(phLTop[6],'#607828')
],[
 [6.55,2.52,'22','#00ffff',15],[5.8,2.02,'26','#00ffb0',25],[5.25,1.79,'28','#00ff90',15],[4.2,1.64,'30','#00ff60',10],[2.65,1.56,'32','#00ff30',20],[2.65,1.28,'34','#20ff00',15],[4.15,.91,'36','#70ff00'],
 [5.35,.57,'38','#a0ff00'],[5.35,.29,'40','#c8ff00'],[5.35,-.17,'42','#f0e800'],[18.55,.57,'38','#a0ff00'],[18.55,.29,'40','#c8ff00'],[18.55,-.17,'42','#f0e800'],
 [15,2.07,'24','#00ffd8'],[18.55,1.91,'26','#00ffb0'],[15,3.08,'18','#0058f0',0,'#c8d4f0'],[26.6,2.85,'18','#0094ff',0,'#2a3a70']
]);
const gPhR=addPanel([641,207,1128,368],'#ffd700',{});
addContours(gPhR,[
 belowPts(phR44,'#ffb000',[]),
 above(phR42,'#e8ff00'),above(phR40,'#b0ff00'),above(phR38,'#88ff00'),above(phR36,'#50ff00'),above(phR34,'#20ff00'),above(phR32,'#00ff30'),above(phR30,'#00ff60'),above(phR28,'#00ff90'),above(phR26,'#00ffb0'),above(phR24,'#00ffd8'),above(phR22,'#00ffff'),
 closed(phR20,'#00beff'),closed(phR19a,'#0094ff'),closed(phR19b,'#0094ff'),closed(phR18,'#0058f0'),
 aboveS(phRTop[0],'#00ffa8'),aboveS(phRTop[1],'#00f070'),aboveS(phRTop[2],'#00e050'),aboveS(phRTop[3],'#20d830'),aboveS(phRTop[4],'#40c820'),aboveS(phRTop[5],'#50a820'),aboveS(phRTop[6],'#607828')
],[
 [3.38,2.12,'24','#00ffd8',-3],[5.4,1.86,'28','#00ff90',-5],[9,1.75,'26','#00ffb0'],[16.2,2.27,'24','#00ffd8'],[5.5,.63,'38','#a0ff00'],[5.4,.32,'40','#c8ff00'],[5.5,-.12,'42','#f0e800'],
 [14.66,.99,'36','#70ff00'],[27.8,1.01,'36','#70ff00'],[18.6,1.56,'32','#00ff30'],[18.6,1.3,'34','#20ff00'],[18.6,.78,'38','#a0ff00'],[18.6,.44,'40','#c8ff00'],[18.6,0,'42','#f0e800'],[26.6,2.14,'30','#00ff60'],
 [9.33,2.92,'18','#0094ff',0,'#203060'],[12.2,2.71,'20','#00beff',-20],[30.4,3.18,'20','#0094ff',0,'#203060'],[22.2,-.95,'44','#ffd700'],[13.8,-.99,'44','#ffd700']
]);
// ---------- |W| panels ----------
const gWL=addPanel([38,483,537,649],'#0008e8',{tri:true,labels:true,offset:4,margin:7});
addContours(gWL,[
 belowPts(wLCorner,'#0064ff',[[31,4]]),belowPts(wLCorner0,'#7f00e8',[[31,4]]),
 two(wL01a,wL01b,'#0064ff'),two(wL02a,wL02b,'#00beff'),belowPts(wL03,'#00ffc8',[]),two(wL03a,wL03b,'#00ffc8'),
 closed(wL04,'#00ff98'),closed(wL05,'#00ff50'),closed(wL06,'#20ff10'),closed(wL07,'#60ff00'),closed(wL08,'#a8ff00'),closed(wL09,'#ffe000'),closed(wL10,'#ff8000'),closed(wLMax,'#ff0000')
],[
 [2,1.99,'0.04','#00ffc8',-70],[6.7,2.01,'0.10','#ff8000',-8],[7.7,2.01,'0.09','#ffb000',-8],[8.9,1.89,'0.08','#d0ff00',20],[9.8,1.94,'0.07','#90ff00',25],[10.8,1.89,'0.06','#40ff00',30],[11.2,1.16,'0.05','#00ff70',-15],[12.95,1.48,'0.04','#00ffc8',-30],[15.9,1.3,'0.03','#00beff',10],
 [14.5,3.5,'0.01','#0064ff',-5,'#b8c4d8'],[14.8,3.12,'0.02','#0064ff',0,'#c8d8e8'],[3.9,-.17,'0.02','#0064ff',0,'#b8c4d8'],[3.9,-.81,'0.01','#0020e8',0,'#b8c4d8'],[18.5,.73,'0.02','#0064ff',-15,'#b8c4d8'],[18.4,-.07,'0.01','#0020e8',-10,'#b8c4d8'],
 [28.1,2.61,'0.01','#0064ff',0,'#b8c4d8'],[28.1,2.27,'0.02','#00beff',0,'#334'],[30.5,1.77,'0.03','#00ffc8',10],[28.05,3.88,'0.03','#0064ff',0,'#b8c4d8']
]);
const gWR=addPanel([641,494,1129,656],'#0008e8',{tri:true,labels:true,offset:4,margin:6});
addContours(gWR,[
 belowPts(wRCorner0,'#7f00e8',[[31,4]]),
 two(wR01a,wR01b,'#0064ff'),closed(wR02,'#00beff'),belowPts(wR03,'#00ffc8',[]),belowPts(wR04,'#00ff98',[]),belowPts(wR05,'#00ff50',[]),belowPts(wR06,'#60ff00',[]),
 belowPts(wRBlob1,'#00ffc8',[]),belowPts(wRBlob2,'#00ffc8',[]),belowPts(wRCore,'#00ff90',[])
],[
 [10.1,2.87,'0.01','#0064ff',-15,'#b8c4d8'],[10.1,2.46,'0.02','#00beff',0,'#334'],[14.9,1.45,'0.03','#00beff',-25],[24.5,.8,'0.02','#0064ff',0,'#b8c4d8'],[26.9,.42,'0.01','#0020e8',-15,'#b8c4d8'],[26.8,1.5,'0.03','#00ffc8',-30],
 [2.85,1.81,'0.06','#30ff00',25],[5.6,1.85,'0.05','#00ff50',25],[7.95,1.81,'0.04','#00ff98',25]
]);
// ---------- ReW panels ----------
const gRwL=addPanel([41,676,539,841],'#fff',{labels:true,xr:[.38,30.75],margin:4});
addReW(gRwL,reWLeft,0.23);
const gRwR=addPanel([645,690,1132,850],'#fff',{labels:true,xr:[.15,30.8],margin:4});
addReW(gRwR,reWRight,0.23);

// ---------- inset sounding curves ----------
const graphics=[];
function addInset(x0,x1,y0,y1,name,vals,heavy){
  const i=grids.length;
  graphics.push({type:'rect',z:-2,shape:{x:x0,y:y0,width:x1-x0,height:y1-y0},style:{fill:'#dde9f4',stroke:'#7aa6c4',lineWidth:heavy?2:1}});
  graphics.push({type:'rect',z:-1,shape:{x:x0+4,y:y0+3,width:15,height:8},style:{fill:'#f4f4f4',stroke:'#9ab'}});
  graphics.push({type:'text',z:1,style:{x:x0+11.5,y:y0+7,text:'Edit...',font:'5px "Liberation Sans"',fill:'#222',align:'center',verticalAlign:'middle'}});
  graphics.push({type:'rect',z:-1,shape:{x:x0+22,y:y0+3,width:x1-x0-28,height:8},style:{fill:'#fff',stroke:'#9ab'}});
  graphics.push({type:'text',z:1,style:{x:x0+24,y:y0+7,text:name,font:'5.5px "Liberation Sans"',fill:'#222',align:'left',verticalAlign:'middle'}});
  grids.push({left:x0+11,top:y0+12,width:x1-x0-16,height:y1-y0-21,show:true,backgroundColor:'#fff',borderColor:'#c8d4de',borderWidth:1});
  xAxes.push({gridIndex:i,type:'value',min:-4,max:1,interval:1,axisLine:{onZero:false,lineStyle:{color:'#888'}},axisTick:{length:1.5},
    axisLabel:{fontSize:5,color:'#444',margin:2,formatter:v=>({'-4':'10⁻⁴','-3':'10⁻³','-2':'10⁻²','-1':'10⁻¹','0':'10⁰','1':'10¹'})[v]},
    splitLine:{show:true,lineStyle:{color:'#e4e4e4',type:'dotted'}}});
  yAxes.push({gridIndex:i,type:'value',min:198,max:243,interval:5,axisLine:{onZero:false,lineStyle:{color:'#888'}},axisTick:{length:1},
    axisLabel:{fontSize:4,color:'#555',margin:1.5,showMinLabel:false,formatter:v=>v},
    splitLine:{show:true,lineStyle:{color:'#e4e4e4',type:'dotted'}}});
  series.push({type:'line',xAxisIndex:i,yAxisIndex:i,data:vals.map((v,k)=>[insetX[k],v]),smooth:.3,silent:true,
    symbol:'circle',symbolSize:3,itemStyle:{color:'#1f5c14'},lineStyle:{color:'#1f5c14',width:2,type:[2,1]}});
}
const insetLX=[24,109,195,282,368,455,540];
insetL.forEach((d,k)=>addInset(insetLX[k],insetLX[k+1],374,453,d[0],d[1],k===1||k===3||k===5));
const insetRX=[625,708,792,875,958,1040,1123];
insetR.forEach((d,k)=>addInset(insetRX[k],insetRX[k+1],382,460,d[0],d[1],k===0));

// ---------- colour bars, titles, panel letters ----------
function bar(x,y0,y1,w,colors,labels,labelYs,fs){
  const h=(y1-y0)/colors.length;
  colors.forEach((c,k)=>graphics.push({type:'rect',z:20,shape:{x,y:y0+k*h,width:w,height:h+.4},style:{fill:c}}));
  graphics.push({type:'rect',z:21,shape:{x,y:y0,width:w,height:y1-y0},style:{fill:null,stroke:'#b0b0b0',lineWidth:1}});
  labels.forEach((t,k)=>graphics.push({type:'text',z:21,style:{x:x+w+3,y:labelYs[k],text:t,font:'bold '+(fs||8)+'px "Liberation Sans"',fill:'#222',align:'left',verticalAlign:'middle'}}));
}
function title(x,y,t,font,align){graphics.push({type:'text',z:21,style:{x,y,text:t,font,fill:'#111',align:align||'left',verticalAlign:'middle'}});}
function badge(x0,y0,x1,y1,t){
  graphics.push({type:'rect',z:22,shape:{x:x0,y:y0,width:x1-x0,height:y1-y0},style:{fill:'#fff',stroke:'#111',lineWidth:1.5}});
  graphics.push({type:'text',z:23,style:{x:(x0+x1)/2,y:(y0+y1)/2,text:t,font:'italic bold 30px "Liberation Sans"',fill:'#000',align:'center',verticalAlign:'middle'}});
}
function reWBox(x0,y0,x1,y1){
  graphics.push({type:'rect',z:22,shape:{x:x0,y:y0,width:x1-x0,height:y1-y0},style:{fill:'#fff',stroke:'#999',lineWidth:1}});
  graphics.push({type:'text',z:23,style:{x:(x0+x1)/2-1,y:y0+8,text:'ReW',font:'bold 12px "Liberation Sans"',fill:'#111',align:'center',verticalAlign:'middle'}});
  graphics.push({type:'text',z:23,style:{x:(x0+x1)/2-1,y:y0+28,text:'0.01',font:'bold 12px "Liberation Sans"',fill:'#111',align:'center',verticalAlign:'middle'}});
  graphics.push({type:'line',z:24,shape:{x1:x0-1,y1:y0+17,x2:x1-5,y2:y0+17},style:{stroke:'#f01010',lineWidth:1.8}});
  graphics.push({type:'polygon',z:24,shape:{points:[[x1-6,y0+14],[x1,y0+17],[x1-6,y0+20]]},style:{fill:'#f01010'}});
}
title(540,25,'Ro, Omm','bold 10.5px "Liberation Sans"');
bar(546,32,154,10,roBarColors,roBarLabels,[36,44,53,62,70,78,87,95,99,107,116,122,130,138,146]);
title(558,186,'Phase,','bold 11px "Liberation Sans"','center');title(558,195,'deg','bold 11px "Liberation Sans"','center');
bar(546,203,327,10,phBarColors,phBarLabels,[209,219,232,243,254,266,276,288,299,310,321]);
title(543,493,'|W|','bold 15px "Liberation Serif"');
bar(544,506,625,10,wBarColors,wBarLabels,[515,538,560,581,602,622],10);
badge(515,331,538,357,'а');badge(515,622,537,648,'б');badge(516,815,538,841,'в');
title(1133,48,'Ro, Omm','bold 10.5px "Liberation Sans"');
bar(1139,59,179,10,roBarColors,roBarLabels,[63,72,80,88,96,105,113,121,126,132,141,147,155,163,170]);
title(1149,219,'Phase,','bold 11px "Liberation Sans"','center');title(1149,228,'deg','bold 11px "Liberation Sans"','center');
bar(1138,236,357,10,phBarColors,phBarLabels,[242,252,263,274,286,297,307,318,330,340,351]);
title(1133,495,'|W|','bold 15px "Liberation Serif"');
bar(1132,508,625,10,wBarColors,wBarLabels,[518,540,561,582,603,622],10);
badge(1107,344,1128,369,'а');badge(1108,630,1129,656,'б');badge(1112,825,1132,848,'в');
reWBox(499,677,538,713);
reWBox(1094,690,1132,726);

const chart=echarts.init(document.getElementById('c'),null,{renderer:'canvas'});
chart.setOption({animation:false,backgroundColor:'#fff',grid:grids,xAxis:xAxes,yAxis:yAxes,series,graphic:{elements:graphics},tooltip:{show:false}});
</script></body></html>
